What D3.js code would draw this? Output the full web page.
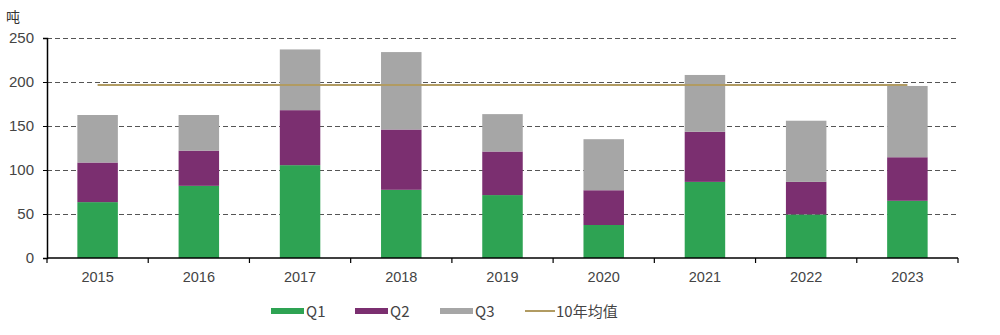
<!DOCTYPE html>
<html><head><meta charset="utf-8">
<script src="https://cdn.jsdelivr.net/npm/d3@7"></script>
<style>body{margin:0;background:#fff;}svg{display:block;font-family:"Noto Sans CJK SC","Liberation Sans",sans-serif;}</style>
</head><body><svg id="c" width="1000" height="335"></svg>
<script>
const years = ["2015","2016","2017","2018","2019","2020","2021","2022","2023"];
const q1 = [63.5, 82, 105.5, 77.5, 71.5, 37.5, 86.5, 49.5, 65];
const q2 = [45, 40, 62.5, 68.5, 49.5, 39.5, 57, 37, 49.5];
const q3 = [54, 40.5, 69, 88, 42.5, 58, 64.5, 69.5, 81];
const avg10 = 196.5;
const yTicks = [0, 50, 100, 150, 200, 250];
const seriesNames = ["Q1","Q2","Q3"];
const colors = {Q1:"#2ea353", Q2:"#7b2f70", Q3:"#a6a6a6"};
const avgColor = "#b19b62";

const svg = d3.select("#c");
const m = {left:47, right:42, top:38, bottom:77};
const W = 1000, H = 335;
const x = d3.scaleBand().domain(years).range([m.left, W - m.right]).paddingInner(0.6).paddingOuter(0.3);
const y = d3.scaleLinear().domain([0,250]).range([H - m.bottom, m.top]);

// gridlines
svg.append("g").selectAll("line").data(yTicks.filter(d=>d>0)).join("line")
  .attr("x1", m.left).attr("x2", W - m.right)
  .attr("y1", d=>y(d)+0.5).attr("y2", d=>y(d)+0.5)
  .attr("stroke","#555").attr("stroke-width",1).attr("stroke-dasharray","5,3");

const data = years.map((yr,i)=>({year:yr, Q1:q1[i], Q2:q2[i], Q3:q3[i]}));
const stacked = d3.stack().keys(seriesNames)(data);
svg.append("g").selectAll("g").data(stacked).join("g")
  .attr("fill", d=>colors[d.key])
  .selectAll("rect").data(d=>d).join("rect")
  .attr("x", d=>x(d.data.year)).attr("width", x.bandwidth())
  .attr("y", d=>y(d[1])).attr("height", d=>y(d[0]) - y(d[1]));

// average line
svg.append("line")
  .attr("x1", x(years[0]) + x.bandwidth()/2).attr("x2", x(years[years.length-1]) + x.bandwidth()/2)
  .attr("y1", y(avg10)).attr("y2", y(avg10))
  .attr("stroke", avgColor).attr("stroke-width", 2);

// axes
const yAxis = svg.append("g").attr("transform",`translate(${m.left},0)`)
  .call(d3.axisLeft(y).tickValues(yTicks).tickSize(4).tickPadding(9));
yAxis.select(".domain").attr("stroke","#000").attr("stroke-width",1.5);
yAxis.selectAll(".tick line").attr("stroke","#000");
yAxis.selectAll("text").attr("font-size",15).attr("fill","#444").attr("font-family","Liberation Sans, sans-serif");

const xAxisG = svg.append("g").attr("transform",`translate(0,${H - m.bottom})`);
xAxisG.append("line").attr("x1", m.left).attr("x2", W - m.right).attr("stroke","#000").attr("stroke-width",1.5);
const step = x.step();
const boundaries = d3.range(years.length + 1).map(i => i===0 ? m.left : (i===years.length ? W - m.right : x(years[i]) - (step - x.bandwidth())/2));
xAxisG.selectAll(".bt").data(boundaries).join("line")
  .attr("x1", d=>d).attr("x2", d=>d).attr("y1",0).attr("y2",5)
  .attr("stroke","#000").attr("stroke-width",1.2);
xAxisG.selectAll("text").data(years).join("text")
  .attr("x", d=>x(d)+x.bandwidth()/2).attr("y", 24)
  .attr("text-anchor","middle").attr("font-size",14.5).attr("fill","#444")
  .attr("font-family","Liberation Sans, sans-serif").text(d=>d);

// y unit
svg.append("text").attr("x",6).attr("y",22).attr("font-size",14).attr("fill","#333").text("吨");

// legend
const legend = svg.append("g").attr("transform","translate(0,311)");
const legItems = [
  {name:"Q1", type:"rect", x:271},
  {name:"Q2", type:"rect", x:355},
  {name:"Q3", type:"rect", x:440},
  {name:"10年均值", type:"line", x:525}
];
legItems.forEach(it=>{
  if (it.type==="rect") {
    legend.append("rect").attr("x",it.x).attr("y",-3).attr("width",33).attr("height",6).attr("fill",colors[it.name]);
  } else {
    legend.append("line").attr("x1",it.x).attr("x2",it.x+30).attr("y1",0).attr("y2",0).attr("stroke",avgColor).attr("stroke-width",2);
  }
  legend.append("text").attr("x", it.x + (it.type==="rect"?35:31)).attr("y",5.5)
    .attr("font-size",15).attr("fill","#444").text(it.name);
});
</script></body></html>
